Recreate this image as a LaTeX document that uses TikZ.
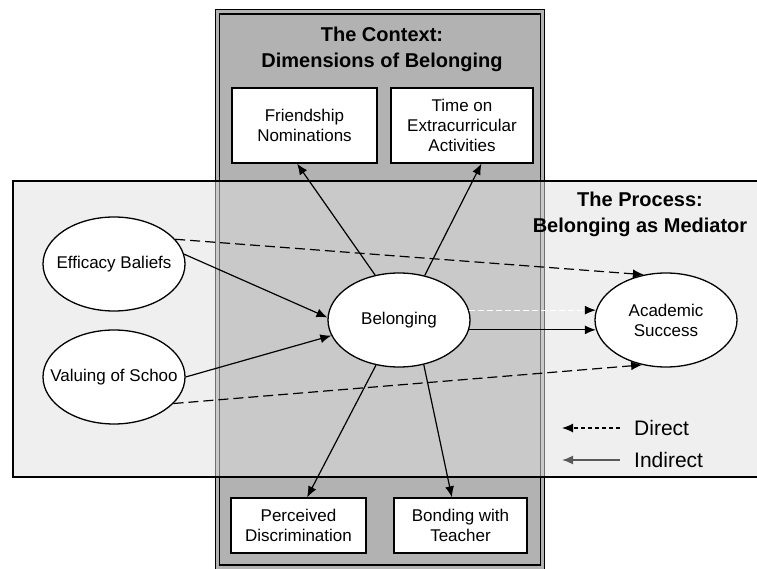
\documentclass[tikz,border=0pt]{standalone}
\usepackage{fontspec}
\setmainfont{Liberation Sans}
\usetikzlibrary{shapes.geometric,arrows.meta}
\definecolor{ctxgray}{gray}{0.70}
\definecolor{procgray}{gray}{0.88}

\begin{document}
\begin{tikzpicture}[x=1pt, y=-1pt,
    factor/.style={ellipse, draw, line width=1.3pt, fill=white, inner sep=0pt,
      minimum width=142pt, minimum height=94pt, align=center,
      font=\fontsize{17}{20}\selectfont},
    dimbox/.style={rectangle, draw, line width=1.3pt, fill=white, inner sep=0pt,
      align=center, font=\fontsize{17}{20}\selectfont},
    heading/.style={align=center, font=\fontsize{20}{26}\selectfont\bfseries},
    legend/.style={anchor=west, inner sep=0pt, font=\fontsize{21}{24}\selectfont}]
  \useasboundingbox (0,0) rectangle (757,569);

  % the context panel
  \fill[ctxgray] (215,10) rectangle (545,569);
  \draw[double=ctxgray, double distance=3pt, line width=1.1pt] (217.5,12) rectangle (542.5,567);
  % the process panel (see-through)
  \fill[procgray, fill opacity=0.5] (13,181) rectangle (757,477);
  \draw[line width=1.2pt] (760,181) -- (13,181) -- (13,477) -- (760,477);

  \node[heading] (ctxtitle) at (382,49) {The Context:\\Dimensions of Belonging};
  \node[heading] (proctitle) at (640,214) {The Process:\\Belonging as Mediator};

  \begin{scope}[every node/.style={factor}]
    \node (eff) at (114,264) {\makebox[0pt]{Efficacy Baliefs}};
    \node (val) at (114,377) {\makebox[0pt]{Valuing of Schoo}};
    \node (bel) at (399,320) {Belonging};
    \node (aca) at (666,320) {Academic\\Success};
  \end{scope}

  \begin{scope}[every node/.style={dimbox}]
    \node[minimum width=145pt, minimum height=75pt] (fri) at (304.5,125.5)
      {Friendship\\Nominations};
    \node[minimum width=142pt, minimum height=75pt] (time) at (462,125.5)
      {Time on\\Extracurricular\\Activities};
    \node[minimum width=135pt, minimum height=55pt] (perc) at (298.5,525.5)
      {Perceived\\Discrimination};
    \node[minimum width=133pt, minimum height=55pt] (bond) at (460.5,525.5)
      {Bonding with\\Teacher};
  \end{scope}

  % legend
  \node[legend] (dirlbl) at (634,428) {Direct};
  \node[legend] (indlbl) at (634,460) {Indirect};
  \coordinate (dtail) at (620,428); \coordinate (dhead) at (562,428);
  \coordinate (itail) at (620,460); \coordinate (ihead) at (562,460);

  \begin{scope}[-{Latex[length=11pt, width=9pt]}, line width=1.2pt]
    \draw (bel.118) to (fri.-101);
    \draw (bel.60) to (time.-63);
    \draw (bel.-117) to (perc.73);
    \draw (bel.-61) to (bond.107);
    \draw (eff.8) to (bel.178);
    \draw (val.0) to (bel.193);
    \draw (bel.-8) to (aca.188);
    \draw[white, dash pattern=on 6pt off 3pt,
      -{Latex[length=11pt, width=9pt, black]}] (bel.8) to (aca.172);
    \draw[dash pattern=on 10pt off 5pt] (eff.22) to (aca.116);
    \draw[dash pattern=on 10pt off 5pt] (val.-24) to (aca.-118);
    \draw[dash pattern=on 4pt off 3pt] (dtail) to (dhead);
    \draw[gray!70!black, line width=1.6pt] (itail) to (ihead);
  \end{scope}
\end{tikzpicture}
\end{document}
